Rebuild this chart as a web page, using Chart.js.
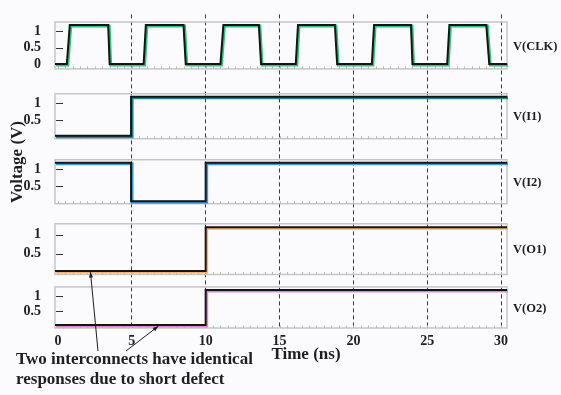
<!DOCTYPE html>
<html>
<head>
<meta charset="utf-8">
<script src="https://cdn.jsdelivr.net/npm/chart.js@4"></script>
<style>
  html, body { margin: 0; padding: 0; background: #fbfbfd; }
  #wrap { position: relative; width: 561px; height: 395px; }
</style>
</head>
<body>
<div id="wrap"><canvas id="c" width="561" height="395"></canvas></div>
<script>
// time axis (ns)
const timeTicks = [0, 5, 10, 15, 20, 25, 30];
const tMin = -0.2;
const tMax = 30.4;

// V(CLK)
const clkT = [-0.2, 0.6, 0.8, 3.4, 3.5, 5.8, 5.95, 8.5, 8.65, 11.0, 11.2, 13.6, 13.75,
  16.1, 16.25, 18.75, 18.9, 21.25, 21.4, 23.9, 24.0, 26.35, 26.5, 29.0, 29.2, 30.4];
const clkV = [0, 0, 1.2, 1.2, 0, 0, 1.2, 1.2, 0, 0, 1.2, 1.2, 0,
  0, 1.2, 1.2, 0, 0, 1.2, 1.2, 0, 0, 1.2, 1.2, 0, 0];
// V(I1)
const i1T = [-0.2, 4.95, 4.95, 30.4];
const i1V = [0.05, 0.05, 1.2, 1.2];
// V(I2)
const i2T = [-0.2, 4.95, 4.95, 10, 10, 30.4];
const i2V = [1.2, 1.2, 0.05, 0.05, 1.2, 1.2];
// V(O1), V(O2) - shorted, same response
const o1T = [-0.2, 10, 10, 30.4];
const o1V = [0.05, 0.05, 1.2, 1.2];
const o2T = [-0.2, 10, 10, 30.4];
const o2V = [0.05, 0.05, 1.2, 1.2];

const clkTicks = [0, 0.5, 1];
const sigTicks = [0.5, 1];

const FONT = "'Liberation Serif', 'Times New Roman', serif";

const pts = (ts, vs) => ts.map((t, i) => ({ x: t, y: vs[i] }));

// panels listed bottom to top (left stacked axes are placed last-first)
const panels = [
  { id: 'yO2', name: 'V(O2)', t: o2T, v: o2V, color: '#d98acb', weight: 43, min: -0.045, max: 1.3, ticks: sigTicks },
  { id: 'g4', weight: 13 },
  { id: 'yO1', name: 'V(O1)', t: o1T, v: o1V, color: '#f6b26b', weight: 53, min: -0.043, max: 1.29, ticks: sigTicks },
  { id: 'g3', weight: 21 },
  { id: 'yI2', name: 'V(I2)', t: i2T, v: i2V, color: '#3d9be0', weight: 46, min: -0.02, max: 1.29, ticks: sigTicks },
  { id: 'g2', weight: 22 },
  { id: 'yI1', name: 'V(I1)', t: i1T, v: i1V, color: '#1f8796', weight: 47, min: -0.04, max: 1.285, ticks: sigTicks },
  { id: 'g1', weight: 26 },
  { id: 'yClk', name: 'V(CLK)', t: clkT, v: clkV, color: '#2bc47e', weight: 49, min: -0.15, max: 1.29, ticks: clkTicks },
  { id: 'g0', weight: 8 }
];

const scales = {
  x: {
    type: 'linear',
    min: tMin,
    max: tMax,
    afterBuildTicks: (s) => { s.ticks = timeTicks.map((v) => ({ value: v })); },
    afterFit: (s) => { s.height = 67; },
    grid: {
      color: (ctx) => (ctx.tick && ctx.tick.value === 0 ? 'rgba(0,0,0,0)' : '#3a3a3a'),
      lineWidth: 1,
      drawTicks: false
    },
    border: { display: false, dash: [4, 3] },
    ticks: {
      color: '#222',
      font: { family: FONT, size: 14, weight: 'bold' },
      padding: 5,
      callback: (v) => String(v)
    }
  }
};

const datasets = [];
panels.forEach((p) => {
  const axis = {
    type: 'linear',
    position: 'left',
    stack: 'panels',
    stackWeight: p.weight,
    afterFit: (s) => { s.width = 55; },
    grid: { display: false },
    border: { display: false }
  };
  if (p.name) {
    axis.min = p.min;
    axis.max = p.max;
    axis.afterBuildTicks = (s) => { s.ticks = p.ticks.map((v) => ({ value: v })); };
    axis.ticks = {
      color: '#222',
      font: { family: FONT, size: 14, weight: 'bold' },
      padding: 6,
      autoSkip: false,
      callback: (v) => String(v)
    };
    datasets.push({
      data: pts(p.t, p.v), yAxisID: p.id, borderColor: '#151515', borderWidth: 2,
      pointRadius: 0, tension: 0, order: 0
    });
    datasets.push({
      data: pts(p.t, p.v), yAxisID: p.id, borderColor: p.color, borderWidth: 3,
      pointRadius: 0, tension: 0, order: 1, shadow: true
    });
  } else {
    axis.min = 0;
    axis.max = 1;
    axis.ticks = { display: false };
  }
  scales[p.id] = axis;
});

const panelPlugin = {
  id: 'panels',
  beforeDraw(chart) {
    const ctx = chart.ctx;
    ctx.save();
    ctx.fillStyle = '#fbfbfd';
    ctx.fillRect(0, 0, chart.width, chart.height);
    ctx.restore();
  },
  beforeDatasetsDraw(chart) {
    const ctx = chart.ctx;
    const area = chart.chartArea;
    const xs = chart.scales.x;
    ctx.save();
    panels.filter((p) => p.name).forEach((p) => {
      const s = chart.scales[p.id];
      // box
      ctx.strokeStyle = '#c6c6c8';
      ctx.lineWidth = 1.5;
      ctx.strokeRect(area.left, s.top, area.right - area.left, s.bottom - s.top);
      // minor ticks on the bottom edge
      ctx.strokeStyle = '#b8b8bb';
      ctx.lineWidth = 1;
      for (let t = 0; t <= 30; t += 0.5) {
        const x = Math.round(xs.getPixelForValue(t)) + 0.5;
        ctx.beginPath();
        ctx.moveTo(x, s.bottom);
        ctx.lineTo(x, s.bottom - 2.5);
        ctx.stroke();
      }
      // inner tick marks on the voltage axis
      ctx.strokeStyle = '#333';
      p.ticks.forEach((v) => {
        const y = Math.round(s.getPixelForValue(v)) + 0.5;
        ctx.beginPath();
        ctx.moveTo(area.left + 1, y);
        ctx.lineTo(area.left + 8, y);
        ctx.stroke();
      });
    });
    ctx.restore();
  },
  beforeDatasetDraw(chart, args) {
    if (args.meta._dataset.shadow) {
      chart.ctx.save();
      chart.ctx.translate(1, 1);
    }
  },
  afterDatasetDraw(chart, args) {
    if (args.meta._dataset.shadow) chart.ctx.restore();
  },
  afterDraw(chart) {
    const ctx = chart.ctx;
    const xs = chart.scales.x;
    ctx.save();
    ctx.fillStyle = '#1e1e1e';
    // signal names on the right
    ctx.font = `bold 12.5px ${FONT}`;
    ctx.textAlign = 'left';
    ctx.textBaseline = 'middle';
    panels.filter((p) => p.name).forEach((p) => {
      const s = chart.scales[p.id];
      ctx.fillText(p.name, 513, (s.top + s.bottom) / 2 + 1);
    });
    // axis titles
    ctx.font = `bold 17px ${FONT}`;
    ctx.textAlign = 'center';
    ctx.fillText('Time (ns)', 306, 355);
    ctx.save();
    ctx.translate(18, 162);
    ctx.rotate(-Math.PI / 2);
    ctx.fillText('Voltage (V)', 0, 0);
    ctx.restore();
    // annotation
    ctx.font = `bold 17px ${FONT}`;
    ctx.textAlign = 'left';
    ctx.fillText('Two interconnects have identical', 16, 360);
    ctx.fillText('responses due to short defect', 16, 380);
    // arrows to the two shorted outputs
    const yO1 = chart.scales.yO1;
    const yO2 = chart.scales.yO2;
    const arrows = [
      { from: [98, 351], to: [xs.getPixelForValue(2.2), yO1.getPixelForValue(0.05) + 1] },
      { from: [126, 351], to: [xs.getPixelForValue(6.8), yO2.getPixelForValue(0.05) + 1] }
    ];
    ctx.strokeStyle = '#1e1e1e';
    ctx.lineWidth = 1;
    arrows.forEach((a) => {
      const [x0, y0] = a.from;
      const [x1, y1] = a.to;
      const ang = Math.atan2(y1 - y0, x1 - x0);
      ctx.beginPath();
      ctx.moveTo(x0, y0);
      ctx.lineTo(x1, y1);
      ctx.stroke();
      ctx.beginPath();
      ctx.moveTo(x1, y1);
      ctx.lineTo(x1 - 6 * Math.cos(ang - 0.35), y1 - 6 * Math.sin(ang - 0.35));
      ctx.lineTo(x1 - 6 * Math.cos(ang + 0.35), y1 - 6 * Math.sin(ang + 0.35));
      ctx.closePath();
      ctx.fill();
    });
    ctx.restore();
  }
};

new Chart(document.getElementById('c'), {
  type: 'line',
  data: { datasets },
  options: {
    responsive: false,
    animation: false,
    layout: { padding: { left: 0, right: 54, top: 0, bottom: 0 } },
    plugins: { legend: { display: false }, tooltip: { enabled: false } },
    scales
  },
  plugins: [panelPlugin]
});
</script>
</body>
</html>
